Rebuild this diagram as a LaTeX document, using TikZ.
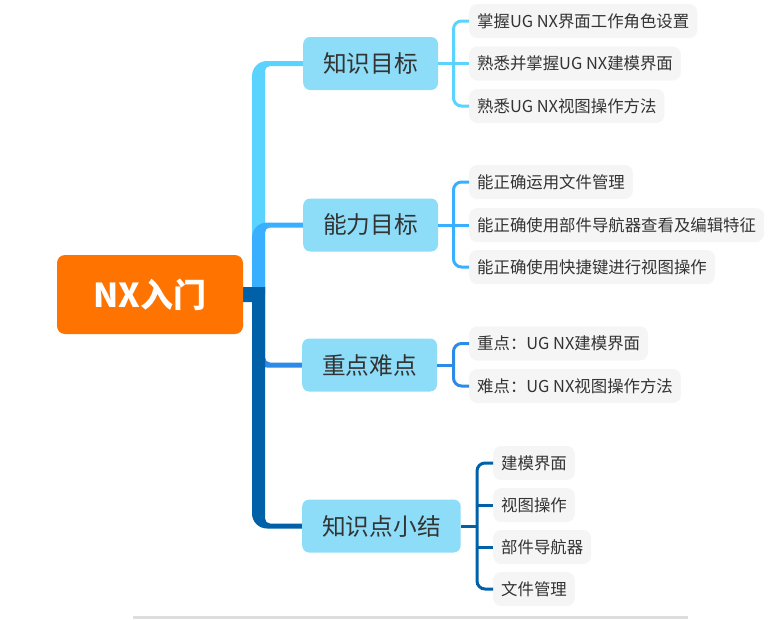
\documentclass[tikz,border=0pt]{standalone}
\usepackage{fontspec}
\setmainfont{Noto Sans CJK SC}
\definecolor{orng}{HTML}{FF7300}
\definecolor{lonefill}{HTML}{8EDDF8}
\definecolor{leaffill}{HTML}{F5F5F5}
\definecolor{txt}{HTML}{333333}
\definecolor{cA}{HTML}{5BD3FF}
\definecolor{cB}{HTML}{38B0FF}
\definecolor{cC}{HTML}{2B8BE6}
\definecolor{cD}{HTML}{0061A8}
\definecolor{sbar}{HTML}{DEDEDE}
\begin{document}
\begin{tikzpicture}[x=1pt,y=1pt,
  rootbox/.style={rounded corners=8pt, fill=orng, text=white, minimum width=186pt, minimum height=79pt, font=\fontsize{33}{37}\selectfont\bfseries},
  lone/.style={rounded corners=7pt, fill=lonefill, text=txt, inner xsep=20pt, minimum height=53pt, font=\fontsize{23.7}{28}\selectfont, anchor=west},
  leaf/.style={rounded corners=8pt, fill=leaffill, text=txt, inner xsep=8pt, minimum height=34pt, font=\fontsize{16.4}{19}\selectfont, anchor=west},
  br/.style={line width=3pt, rounded corners=8pt},
  ln/.style={line width=3pt}]
\useasboundingbox (0,0) rectangle (774,-619);
\fill[sbar] (133,-616) rectangle (688,-619);
% trunk branches
\fill[cA] (252,-294) -- (252,-76) arc[start angle=180,end angle=90,radius=15pt] -- (303,-61) -- (303,-66) -- (270,-66) arc[start angle=90,end angle=180,radius=5pt] -- (265,-294) -- cycle;
\fill[cB] (252,-294) -- (252,-237.5) arc[start angle=180,end angle=90,radius=15pt] -- (303,-222.5) -- (303,-227.5) -- (270,-227.5) arc[start angle=90,end angle=180,radius=5pt] -- (265,-294) -- cycle;
\fill[cC] (252,-287) -- (265,-287) -- (265,-357.5) arc[start angle=180,end angle=270,radius=5pt] -- (303,-362.5) -- (303,-367.5) -- (267,-367.5) arc[start angle=270,end angle=180,radius=15pt] -- cycle;
\fill[cD] (240,-287) -- (265,-287) -- (265,-518.5) arc[start angle=180,end angle=270,radius=5pt] -- (303,-523.5) -- (303,-528.5) -- (267,-528.5) arc[start angle=270,end angle=180,radius=15pt] -- (252,-302) -- (240,-302) -- cycle;
% nodes
\node[rootbox] (root) at (150,-294.5) {NX入门};
\node[lone] (k1) at (303,-63.5) {知识目标};
\node[lone] (k2) at (303,-225) {能力目标};
\node[lone] (k3) at (302,-365) {重点难点};
\node[lone] (k4) at (302,-526) {知识点小结};
\node[leaf] (k1a) at (469,-21) {掌握UG NX界面工作角色设置};
\node[leaf] (k1b) at (469,-63.5) {熟悉并掌握UG NX建模界面};
\node[leaf] (k1c) at (469,-106) {熟悉UG NX视图操作方法};
\node[leaf] (k2a) at (469,-182) {能正确运用文件管理};
\node[leaf] (k2b) at (469,-225) {能正确使用部件导航器查看及编辑特征};
\node[leaf] (k2c) at (469,-267) {能正确使用快捷键进行视图操作};
\node[leaf] (k3a) at (469,-343.5) {重点：UG NX建模界面};
\node[leaf] (k3b) at (469,-386) {难点：UG NX视图操作方法};
\node[leaf] (k4a) at (493,-463) {建模界面};
\node[leaf] (k4b) at (493,-505) {视图操作};
\node[leaf] (k4c) at (493,-547) {部件导航器};
\node[leaf] (k4d) at (493,-589) {文件管理};
\coordinate (j1) at (453.5,-63.5);
\coordinate (j2) at (453.5,-225);
\coordinate (j3) at (453.5,-365);
\coordinate (j4) at (477,-526);
% brackets
\draw[br,cA] (k1a.west) -| (j1) |- (k1c.west);
\draw[ln,cA] (k1.east) -- (k1b.west);
\draw[br,cB] (k2a.west) -| (j2) |- (k2c.west);
\draw[ln,cB] (k2.east) -- (k2b.west);
\draw[br,cC] (k3a.west) -| (j3) |- (k3b.west);
\draw[ln,cC] (k3.east) -- (j3);
\draw[br,cD] (k4a.west) -| (j4) |- (k4d.west);
\draw[ln,cD] (k4.east) -- (j4);
\draw[ln,cD] (j4 |- k4b.west) -- (k4b.west);
\draw[ln,cD] (j4 |- k4c.west) -- (k4c.west);
\end{tikzpicture}
\end{document}
